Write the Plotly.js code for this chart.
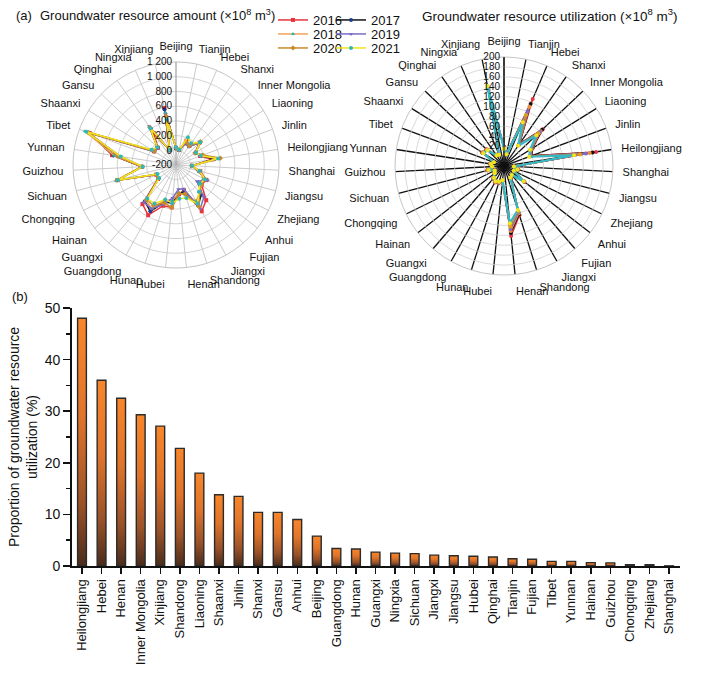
<!DOCTYPE html>
<html><head><meta charset="utf-8">
<script src="https://cdn.plot.ly/plotly-3.0.1.min.js"></script>
<style>body{margin:0;background:#fff}#chart{width:706px;height:679px}</style>
</head><body><div id="chart"></div>
<script>
const provinces = ['Beijing','Tianjin','Hebei','Shanxi','Inner Mongolia','Liaoning','Jinlin','Heilongjiang','Shanghai','Jiangsu','Zhejiang','Anhui','Fujian','Jiangxi','Shandong','Henan','Hubei','Hunan','Guangdong','Guangxi','Hainan','Chongqing','Sichuan','Guizhou','Yunnan','Tibet','Shaanxi','Gansu','Qinghai','Ningxia','Xinjiang'];
const years = ['2016','2017','2018','2019','2020','2021'];

// Groundwater resource amount (x10^8 m3)
const amount2016 = [30,10,160,120,240,120,150,300,20,140,260,240,430,520,160,200,380,380,580,500,110,100,620,260,680,1050,150,140,330,20,590];
const amount2017 = [28,8,130,110,250,110,170,330,15,120,230,200,330,420,180,190,320,330,520,450,100,95,630,265,660,1070,170,145,400,19,570];
const amount2018 = [35,9,140,120,260,115,180,370,15,120,220,210,300,360,230,180,280,300,480,430,110,100,640,260,650,1120,160,150,430,20,530];
const amount2019 = [30,8,110,105,240,100,160,400,15,110,280,160,380,480,140,130,250,360,480,470,95,90,620,255,560,1080,140,145,440,19,500];
const amount2020 = [32,9,140,115,260,105,190,410,15,125,240,240,290,450,210,190,380,340,430,420,100,95,625,260,600,1060,150,155,420,20,480];
const amount2021 = [40,10,210,160,250,120,160,380,20,130,240,210,280,400,270,260,320,290,400,400,90,80,615,255,560,1100,190,150,410,20,430];

// Groundwater resource utilization (x10^8 m3)
const use2016 = [19,6,127,35,88,48,40,168,0.2,10,3,32,5,8,84,122,11,16,18,13,5,1,15,5,9,3,32,29,8,6,135];
const use2017 = [18,5,116,34,86,47,39,161,0.2,9,3,31,5,8,82,116,10,15,17,12,5,1,14,5,8,3,31,28,8,6,140];
const use2018 = [17,5,110,33,82,46,38,155,0.2,9,3,31,5,7,80,112,10,15,17,12,5,1,14,5,8,3,31,28,7,6,140];
const use2019 = [16,5,101,32,80,45,37,147,0.1,8,2,30,4,7,78,108,10,14,16,11,4,1,13,4,8,3,30,27,7,5,138];
const use2020 = [15,4,92,31,76,44,35,135,0.1,8,2,30,4,7,76,103,9,14,16,11,4,1,13,4,7,2,30,27,7,5,142];
const use2021 = [15,4,76,30,70,42,34,123,0.1,8,2,30,4,7,73,96,9,13,15,11,4,1,12,4,7,2,29,26,6,5,145];

// Proportion of groundwater resource utilization (%)
const barCats = ['Heilongjiang','Hebei','Henan','Inner Mongolia','Xinjiang','Shandong','Liaoning','Shaanxi','Jinlin','Shanxi','Gansu','Anhui','Beijing','Guangdong','Hunan','Guangxi','Ningxia','Sichuan','Jiangxi','Jiangsu','Hubei','Qinghai','Tianjin','Fujian','Tibet','Yunnan','Hainan','Guizhou','Chongqing','Zhejiang','Shanghai'];
const barVals = [48.0,36.0,32.5,29.3,27.1,22.8,18.0,13.8,13.5,10.4,10.4,9.0,5.8,3.4,3.3,2.7,2.5,2.4,2.1,2.0,1.9,1.75,1.4,1.3,0.9,0.9,0.65,0.6,0.25,0.25,0.03];

const ampTickVals = [-200,0,200,400,600,800,1000,1200];
const ampTickText = ['-200','0','200','400','600','800','1 000','1 200'];
const useTickVals = [20,40,60,80,100,120,140,160,180,200];

const amountSeries = [amount2016,amount2017,amount2018,amount2019,amount2020,amount2021];
const useSeries = [use2016,use2017,use2018,use2019,use2020,use2021];

const lineColors = ['#e8343c','#111111','#f2a25a','#7a6cc6','#c98a2c','#f2e41c'];
const markColors = ['#e8343c','#1c3b8c','#2fb5a5','#7a6cc6','#c98a2c','#2fb8b8'];
const markSymbols = ['square','circle','triangle-up','triangle-down','diamond','circle'];
const useLineColors = ['#e8343c','#111111','#f08a3c','#7a6cc6','#c98a2c','#35b9c4'];
const useMarkColors = ['#e8343c','#111111','#f08a3c','#7a6cc6','#e0a020','#f2e41c'];

const close = a => a.concat([a[0]]);
const thetaClosed = close(provinces);
const legendIds = ['legend','legend2','legend3','legend4','legend5','legend6'];

const traces = [];
years.forEach((y,i)=>{
  traces.push({
    type:'scatterpolar', subplot:'polar', name:y, r:close(amountSeries[i]), theta:thetaClosed,
    mode:'lines+markers', line:{color:lineColors[i], width:1.5},
    marker:{color:markColors[i], size:4, symbol:markSymbols[i]},
    legend: legendIds[i], showlegend:true, cliponaxis:false
  });
});
years.forEach((y,i)=>{
  traces.push({
    type:'scatterpolar', subplot:'polar2', name:y, r:close(useSeries[i]), theta:thetaClosed,
    mode:'lines+markers', line:{color:useLineColors[i], width:i===5?2.2:1.5},
    marker:{color:useMarkColors[i], size:4, symbol:'circle'},
    showlegend:false, cliponaxis:false
  });
});
traces.push({
  type:'bar', x:barCats, y:barVals, xaxis:'x', yaxis:'y', showlegend:false,
  width:0.45,
  marker:{color:'#e0782a', line:{color:'#2b2b2b', width:1.4}}
});

const font = {family:'Liberation Sans, Arial, sans-serif', color:'#111'};
const layout = {
  width:706, height:679, margin:{l:0,r:0,t:0,b:0},
  paper_bgcolor:'#fff', plot_bgcolor:'#fff',
  font:Object.assign({size:11}, font),
  showlegend:true,
  polar:{
    domain:{x:[0.1034,0.3952], y:[0.6053,0.9087]},
    bgcolor:'#fff',
    angularaxis:{type:'category', categoryarray:provinces, direction:'clockwise', rotation:90,
      gridcolor:'#bdbdbd', gridwidth:0.8, linecolor:'#c4c4c4', linewidth:1,
      ticks:'outside', ticklen:7, tickcolor:'rgba(0,0,0,0)', tickfont:{size:11, color:'#111'}},
    radialaxis:{range:[-200,1200], angle:90, side:'counterclockwise', tickvals:ampTickVals, ticktext:ampTickText,
      gridcolor:'#c8c8c8', gridwidth:0.8, linecolor:'#9a9a9a', linewidth:0.8, showline:true,
      ticks:'', tickangle:90, tickfont:{size:10, color:'#111'}, layer:'above traces'}
  },
  polar2:{
    domain:{x:[0.5595,0.8683], y:[0.595,0.916]},
    bgcolor:'#fff',
    angularaxis:{type:'category', categoryarray:provinces, direction:'clockwise', rotation:90,
      gridcolor:'#111', gridwidth:1.3, linecolor:'#c4c4c4', linewidth:1,
      ticks:'outside', ticklen:7, tickcolor:'rgba(0,0,0,0)', tickfont:{size:11, color:'#111'}},
    radialaxis:{range:[-20,200], angle:90, side:'counterclockwise', tickvals:useTickVals,
      gridcolor:'#cfcfcf', gridwidth:0.8, linecolor:'#111', linewidth:1, showline:true,
      ticks:'', tickangle:90, tickfont:{size:10, color:'#111'}, layer:'above traces'}
  },
  xaxis:{domain:[0.102,0.9632], anchor:'y', type:'category', range:[-0.51,30.56],
    showline:true, linecolor:'#111', linewidth:2, ticks:'outside', ticklen:6, tickwidth:1.5, tickcolor:'#111',
    tickangle:-90, tickfont:{size:13, color:'#111'}, automargin:false, showgrid:false, zeroline:false},
  yaxis:{domain:[0.1664,0.5464], anchor:'x', range:[0,50], tickvals:[0,10,20,30,40,50],
    showline:true, linecolor:'#111', linewidth:2, ticks:'outside', ticklen:7, tickwidth:1.5, tickcolor:'#111',
    minor:{tickvals:[5,15,25,35,45], ticks:'outside', ticklen:4, tickwidth:1.5, tickcolor:'#111'},
    tickfont:{size:14, color:'#111'}, automargin:false, showgrid:false, zeroline:false,
    title:{text:'Proportion of groundwater resource<br>utilization (%)', font:{size:14, color:'#111'}, standoff:4}},
  annotations:[
    {text:'(a)', x:14/706, y:1-15/679, xref:'paper', yref:'paper', xanchor:'left', yanchor:'middle', showarrow:false, font:{size:13}},
    {text:'Groundwater resource amount (×10<sup>8</sup> m<sup>3</sup>)', x:38/706, y:1-15/679, xref:'paper', yref:'paper', xanchor:'left', yanchor:'middle', showarrow:false, font:{size:13}},
    {text:'Groundwater resource utilization (×10<sup>8</sup> m<sup>3</sup>)', x:420/706, y:1-15/679, xref:'paper', yref:'paper', xanchor:'left', yanchor:'middle', showarrow:false, font:{size:13.5}},
    {text:'(b)', x:10/706, y:1-296/679, xref:'paper', yref:'paper', xanchor:'left', yanchor:'middle', showarrow:false, font:{size:13}}
  ]
};
legendIds.forEach((id,i)=>{
  const col = i%2, row = Math.floor(i/2);
  layout[id] = {x:(col===0?273:331)/706, y:1-(20+14*row)/679, xanchor:'left', yanchor:'middle',
    bgcolor:'rgba(0,0,0,0)', font:{size:13, color:'#111'}, itemwidth:30, borderwidth:0};
});

Plotly.newPlot('chart', traces, layout, {displayModeBar:false, staticPlot:true}).then(gd=>{
  const svg = gd.querySelector('svg.main-svg');
  const ns = 'http://www.w3.org/2000/svg';
  let defs = svg.querySelector('defs');
  if(!defs){defs=document.createElementNS(ns,'defs'); svg.insertBefore(defs, svg.firstChild);}
  const lg = document.createElementNS(ns,'linearGradient');
  lg.setAttribute('id','barGrad'); lg.setAttribute('x1','0'); lg.setAttribute('y1','0'); lg.setAttribute('x2','0'); lg.setAttribute('y2','1');
  [['0%','#f8862a'],['40%','#e0742a'],['75%','#9a5228'],['100%','#4a2c1c']].forEach(s=>{
    const st=document.createElementNS(ns,'stop'); st.setAttribute('offset',s[0]); st.setAttribute('stop-color',s[1]); lg.appendChild(st);
  });
  defs.appendChild(lg);
  gd.querySelectorAll('g.barlayer g.point path').forEach(p=>{ p.style.fill='url(#barGrad)'; });
});
</script></body></html>
